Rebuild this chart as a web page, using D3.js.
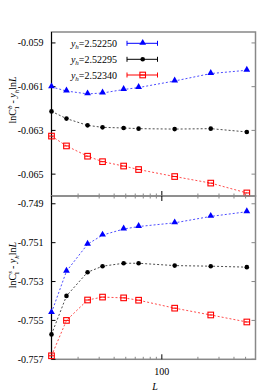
<!DOCTYPE html>
<html>
<head>
<meta charset="utf-8">
<script src="https://cdn.jsdelivr.net/npm/d3@7"></script>
<style>
  body { margin: 0; background: #fff; }
  svg text { font-family: "Liberation Serif", "DejaVu Serif", serif; fill: #000; }
</style>
</head>
<body>
<div id="chart"></div>
<script>
// system sizes
const sizes = [12, 16, 24, 32, 48, 64, 128, 256, 512];
const yhLabels = ["2.52250", "2.52295", "2.52340"];
const colors = ["#0000ff", "#000000", "#ff0000"];
const shapes = ["triangle", "circle", "square"];

// upper panel: ln C_1^b - y_h ln L
const bulkBlue  = [-0.06101, -0.06120, -0.06133, -0.06129, -0.06113, -0.06104, -0.06074, -0.06040, -0.06025];
const bulkBlack = [-0.06213, -0.06246, -0.06277, -0.06286, -0.06289, -0.06292, -0.06294, -0.06292, -0.06307];
const bulkRed   = [-0.06326, -0.06371, -0.06418, -0.06443, -0.06463, -0.06479, -0.06511, -0.06541, -0.06586];

// lower panel: ln C_1^s - y_h ln L
const surfBlue  = [-0.75460, -0.75247, -0.75108, -0.75061, -0.75030, -0.75017, -0.74998, -0.74965, -0.74941];
const surfBlack = [-0.75572, -0.75374, -0.75252, -0.75221, -0.75206, -0.75206, -0.75218, -0.75221, -0.75226];
const surfRed   = [-0.75682, -0.75500, -0.75395, -0.75380, -0.75384, -0.75396, -0.75437, -0.75472, -0.75508];

const topTicks = [-0.059, -0.061, -0.063, -0.065];
const botTicks = [-0.749, -0.751, -0.753, -0.755, -0.757];

const width = 280, height = 392;
const left = 51.5, right = 255.5;
const fs = 10;
const panels = [
  { top: 32, bottom: 196, domain: [-0.066, -0.0585], ticks: topTicks, series: [bulkBlue, bulkBlack, bulkRed], sup: "b", labelY: 100 },
  { top: 196, bottom: 359.3, domain: [-0.757, -0.7486], ticks: botTicks, series: [surfBlue, surfBlack, surfRed], sup: "s", labelY: 265 }
];

let svg = d3.select("#chart").append("svg")
  .attr("width", width)
  .attr("height", height);

let x = d3.scaleLog().domain([12, 605]).range([left, right]);
let minorX = [20, 30, 40, 50, 60, 70, 80, 90, 200, 300, 400, 500];

panels.forEach((p, pi) => {
  let y = d3.scaleLinear().domain(p.domain).range([p.bottom, p.top]);
  let g = svg.append("g");

  // frame
  g.append("rect")
    .attr("x", left).attr("y", p.top)
    .attr("width", right - left).attr("height", p.bottom - p.top)
    .attr("fill", "none").attr("stroke", "#888").attr("stroke-width", 1.5);
  g.append("line")
    .attr("x1", left).attr("x2", left).attr("y1", p.top).attr("y2", p.bottom)
    .attr("stroke", "#000").attr("stroke-width", 1);

  // y ticks on both sides
  p.ticks.forEach(t => {
    g.append("line").attr("x1", left).attr("x2", left + 4)
      .attr("y1", y(t)).attr("y2", y(t)).attr("stroke", "#000");
    g.append("line").attr("x1", right - 4).attr("x2", right)
      .attr("y1", y(t)).attr("y2", y(t)).attr("stroke", "#888");
    g.append("text")
      .attr("x", left - 8).attr("y", y(t) + 3.5)
      .attr("text-anchor", "end")
      .attr("font-size", fs)
      .text(d3.format(".3f")(t).replace("−", "-"));
  });

  // x ticks on the bottom edge of each panel, and top edge of the lower panel
  let edges = pi === 0 ? [[p.bottom, -1]] : [[p.bottom, -1], [p.top, 1]];
  edges.forEach(([ey, dir]) => {
    minorX.forEach(v => {
      g.append("line").attr("x1", x(v)).attr("x2", x(v))
        .attr("y1", ey).attr("y2", ey + dir * 2.5).attr("stroke", "#888");
    });
    g.append("line").attr("x1", x(100)).attr("x2", x(100))
      .attr("y1", ey).attr("y2", ey + dir * 5).attr("stroke", "#000");
  });

  // y label
  let lab = g.append("text")
    .attr("transform", `translate(16,${p.labelY}) rotate(-90)`)
    .attr("text-anchor", "middle")
    .attr("font-size", fs);
  lab.append("tspan").text("lnC");
  lab.append("tspan").attr("font-size", 7).attr("dy", -4).attr("font-style", "italic").text(p.sup);
  lab.append("tspan").attr("font-size", 7).attr("dx", -4).attr("dy", 7).text("1");
  lab.append("tspan").attr("dy", -3).text(" - ");
  lab.append("tspan").attr("font-style", "italic").text("y");
  lab.append("tspan").attr("font-style", "italic").attr("font-size", 7).attr("dy", 2.5).text("h");
  lab.append("tspan").attr("dy", -2.5).text("ln");
  lab.append("tspan").attr("font-style", "italic").text("L");

  // series
  let clip = "clip" + pi;
  svg.append("clipPath").attr("id", clip).append("rect")
    .attr("x", left - 6).attr("y", p.top).attr("width", right - left + 12).attr("height", p.bottom - p.top + 6);
  let dg = svg.append("g").attr("clip-path", `url(#${clip})`);

  p.series.forEach((vals, si) => {
    let pts = sizes.map((L, i) => [x(L), y(vals[i])]);
    dg.append("path")
      .attr("d", d3.line()(pts))
      .attr("fill", "none")
      .attr("stroke", colors[si])
      .attr("stroke-width", 1)
      .attr("stroke-opacity", 0.7)
      .attr("stroke-dasharray", "2,2");
    pts.forEach(pt => drawMarker(dg, shapes[si], colors[si], pt[0], pt[1]));
  });
});

function drawMarker(g, shape, color, cx, cy) {
  if (shape === "triangle") {
    g.append("path")
      .attr("d", d3.symbol().type(d3.symbolTriangle).size(20)())
      .attr("transform", `translate(${cx},${cy - 0.5})`)
      .attr("fill", color);
  } else if (shape === "circle") {
    g.append("circle").attr("cx", cx).attr("cy", cy).attr("r", 2.3).attr("fill", color);
  } else {
    g.append("rect").attr("x", cx - 2.8).attr("y", cy - 2.8).attr("width", 5.6).attr("height", 5.6)
      .attr("fill", "none").attr("stroke", color).attr("stroke-width", 1.1);
    g.append("line").attr("x1", cx - 2.8).attr("x2", cx + 2.8).attr("y1", cy).attr("y2", cy)
      .attr("stroke", color).attr("stroke-width", 1);
  }
}

// legend
const legendRows = [43.3, 59.3, 75];
yhLabels.forEach((lbl, i) => {
  let ly = legendRows[i];
  let t = svg.append("text")
    .attr("x", 117).attr("y", ly + 3.5)
    .attr("text-anchor", "end")
    .attr("font-size", fs);
  t.append("tspan").attr("font-style", "italic").text("y");
  t.append("tspan").attr("font-style", "italic").attr("font-size", 7).attr("dy", 2.5).text("h");
  t.append("tspan").attr("dy", -2.5).text("=" + lbl);

  svg.append("line").attr("x1", 127).attr("x2", 157.5).attr("y1", ly).attr("y2", ly)
    .attr("stroke", colors[i]).attr("stroke-width", 1);
  [127, 157.5].forEach(cx => {
    svg.append("line").attr("x1", cx).attr("x2", cx).attr("y1", ly - 2.5).attr("y2", ly + 2.5)
      .attr("stroke", colors[i]).attr("stroke-width", 1);
  });
  drawMarker(svg, shapes[i], colors[i], 142.7, ly);
});

// x axis labels
svg.append("text")
  .attr("x", x(100)).attr("y", 375)
  .attr("text-anchor", "middle")
  .attr("font-size", fs)
  .text("100");
svg.append("text")
  .attr("x", 155).attr("y", 390)
  .attr("text-anchor", "middle")
  .attr("font-size", fs)
  .attr("font-style", "italic")
  .text("L");
</script>
</body>
</html>
